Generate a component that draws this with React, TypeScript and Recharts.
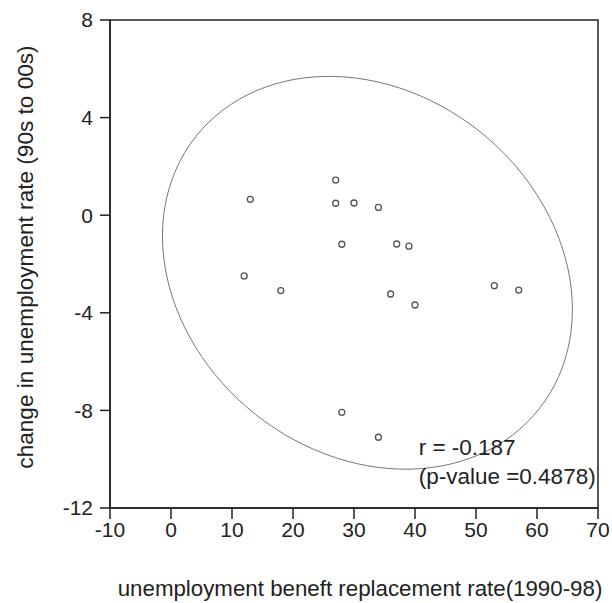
import { ScatterChart, Scatter, XAxis, YAxis, ReferenceArea, ReferenceDot, Label } from 'recharts'

// replacement rate (x) vs change in unemployment rate (y)
const replacementRate = [13, 27, 27, 30, 34, 28, 37, 39, 12, 18, 36, 40, 53, 57, 28, 34]
const unemploymentChange = [0.65, 1.44, 0.49, 0.5, 0.32, -1.19, -1.18, -1.27, -2.49, -3.09, -3.23, -3.68, -2.89, -3.07, -8.08, -9.1]

const xTicks = [-10, 0, 10, 20, 30, 40, 50, 60, 70]
const yTicks = [-12, -8, -4, 0, 4, 8]

// confidence ellipse: centre, half extents along x / y
const ellipseCentre = [32.2, -2.36]
const ellipseHalf = [33.6, 8.05]
const corr = -0.187
const pValue = 0.4878

const font = '"Liberation Sans", Arial, sans-serif'
const ink = '#222'

const points = replacementRate.map((x, i) => ({ x, y: unemploymentChange[i] }))

// outline of the ellipse, 120 steps round it
const ellipse = Array.from({ length: 121 }, (_, i) => {
  const t = (2 * Math.PI * i) / 120
  return {
    x: ellipseCentre[0] + ellipseHalf[0] * Math.cos(t),
    y: ellipseCentre[1] + ellipseHalf[1] * (corr * Math.cos(t) + Math.sqrt(1 - corr * corr) * Math.sin(t)),
  }
})

export default function App() {
  return (
    <div style={{ position: 'absolute', left: 0, top: 0, background: '#fff' }}>
      <ScatterChart width={612} height={603} margin={{ top: 20, right: 14, bottom: 35, left: 30 }}>
        <XAxis
          type="number"
          dataKey="x"
          domain={[-10, 70]}
          ticks={xTicks}
          allowDataOverflow
          height={60}
          stroke={ink}
          strokeWidth={1.5}
          tickSize={11}
          tickMargin={3}
          tick={{ fill: ink, fontSize: 21, fontFamily: font }}
        >
          <Label
            content={() => (
              <text x={360} y={596} textAnchor="middle" fontSize={22.3} fontFamily={font} fill={ink}>
                unemployment beneft replacement rate(1990-98)
              </text>
            )}
          />
        </XAxis>
        <YAxis
          type="number"
          dataKey="y"
          domain={[-12, 8]}
          ticks={yTicks}
          allowDataOverflow
          width={80}
          stroke={ink}
          strokeWidth={1.5}
          tickSize={10}
          tickMargin={7}
          tick={{ fill: ink, fontSize: 21, fontFamily: font }}
        >
          <Label
            content={() => (
              <text
                x={33}
                y={257}
                textAnchor="middle"
                fontSize={22.6}
                fontFamily={font}
                fill={ink}
                transform="rotate(-90 33 257)"
              >
                change in unemployment rate (90s to 00s)
              </text>
            )}
          />
        </YAxis>
        <ReferenceArea x1={-10} x2={70} y1={-12} y2={8} fill="none" stroke={ink} strokeWidth={1.5} fillOpacity={0} />
        <Scatter
          data={ellipse}
          line={{ stroke: '#777', strokeWidth: 1 }}
          shape={() => <g />}
          isAnimationActive={false}
        />
        <Scatter
          data={points}
          shape={(p: any) => <circle cx={p.cx} cy={p.cy} r={3} fill="#fff" stroke="#555" strokeWidth={1.3} />}
          isAnimationActive={false}
        />
        <ReferenceDot
          x={40.6}
          y={-9.8}
          r={0}
          shape={(p: any) => (
            <g fontFamily={font} fontSize={22.5} fill={ink}>
              <text x={p.cx} y={p.cy + 1}>{`r = ${corr}`}</text>
              <text x={p.cx} y={p.cy + 30}>{`(p-value =${pValue})`}</text>
            </g>
          )}
        />
      </ScatterChart>
    </div>
  )
}
